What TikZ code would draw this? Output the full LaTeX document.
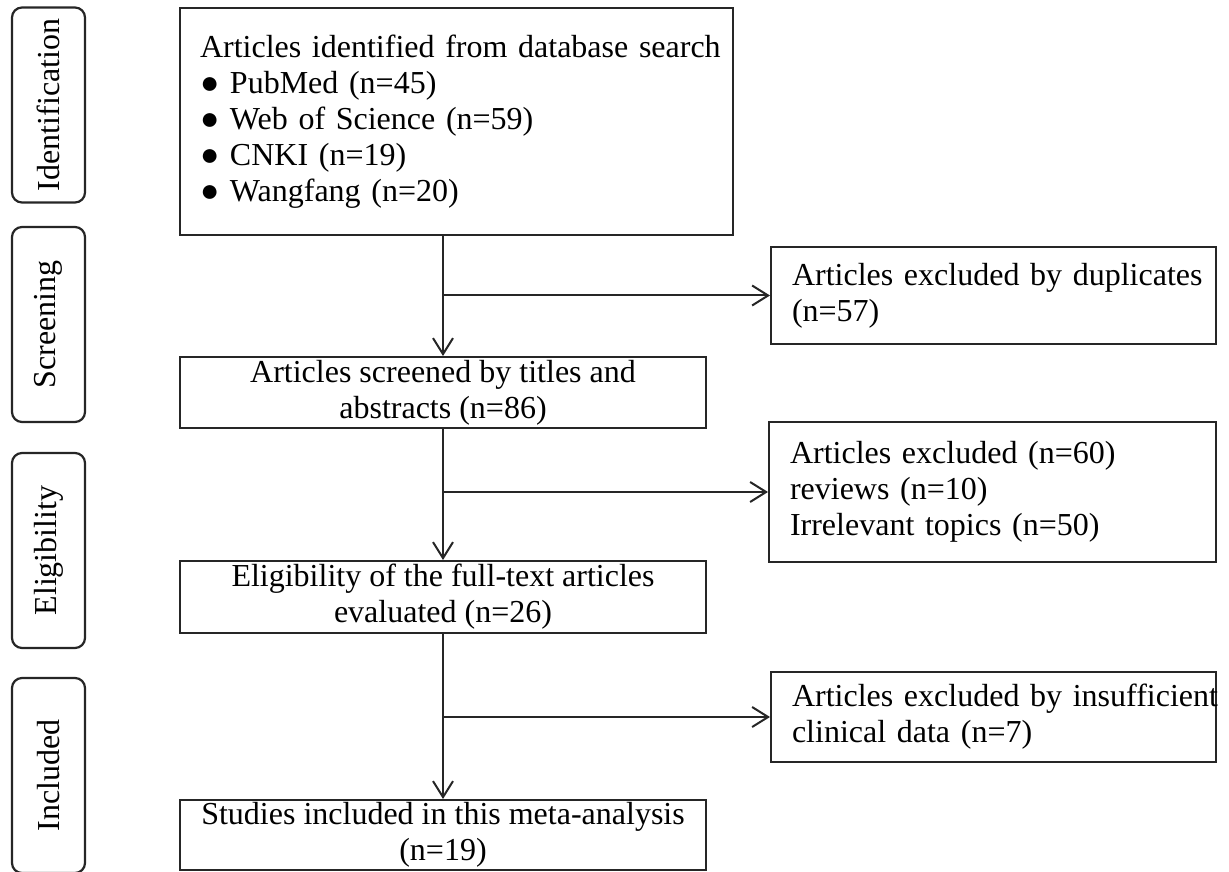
\documentclass[tikz,border=0pt]{standalone}
\usepackage{fontspec}
\setmainfont{Liberation Serif}
\usetikzlibrary{arrows.meta, positioning}

\begin{document}
\begin{tikzpicture}[
  x=0.5pt, y=-0.5pt,
  every node/.style={font=\fontsize{16}{18}\selectfont},
  stage/.style={draw=black!85, line width=1.1pt, rounded corners=5pt, minimum width=97.5pt, minimum height=36.5pt, inner sep=0pt, rotate=90},
  mainbox/.style={draw=black!85, line width=1pt, inner xsep=10pt, inner ysep=0pt, align=center},
  listbox/.style={draw=black!85, line width=1pt, inner xsep=10.5pt, inner ysep=0pt, align=left},
  arr/.style={-{Straight Barb[length=8pt, width=10pt]}, line width=1pt, black!85}
]
\useasboundingbox (0,0) rectangle (1229,871);

% Stage labels
\node[stage] (sident) at (48.5,105) {Identification};
\node[stage] (sscreen) at (48.5,324.5) {Screening};
\node[stage] (selig) at (48.5,550.5) {Eligibility};
\node[stage] (sincl) at (48.5,775.5) {Included};

% Main flow
\node[listbox, inner xsep=10pt, text width=256.5pt, minimum height=113.5pt] (ident) at (456.5,121.5)
  {\mbox{Articles identified from database search}\\● PubMed (n=45)\\● Web of Science (n=59)\\● CNKI (n=19)\\● Wangfang (n=20)};
\node[mainbox, minimum width=263pt, minimum height=35.5pt] (screen) at (443,392.5) {Articles screened by titles and\\abstracts (n=86)};
\node[mainbox, minimum width=263pt, minimum height=36pt] (elig) at (443,597) {Eligibility of the full-text articles\\evaluated (n=26)};
\node[mainbox, minimum width=263pt, minimum height=35pt] (incl) at (443,835) {Studies included in this meta-analysis\\(n=19)};

% Excluded
\node[listbox, text width=201.5pt, minimum height=48.5pt] (dup) at (993.5,295.5) {\mbox{Articles excluded by duplicates}\\(n=57)};
\node[listbox, text width=202.5pt, minimum height=70pt] (excl) at (992.5,492) {Articles excluded (n=60)\\reviews (n=10)\\Irrelevant topics (n=50)};
\node[listbox, text width=201.5pt, minimum height=45pt] (insuf) at (993.5,717) {\mbox{Articles excluded by insufficient}\\clinical data (n=7)};

% Arrows
\draw[arr] (screen.north |- ident.south) -- (screen.north);
\draw[arr] (screen.north |- dup.west) -- (dup.west);
\draw[arr] (screen.south) -- (elig.north);
\draw[arr] (elig.north |- excl.west) -- (excl.west);
\draw[arr] (elig.south) -- (incl.north);
\draw[arr] (incl.north |- insuf.west) -- (insuf.west);

\end{tikzpicture}
\end{document}
